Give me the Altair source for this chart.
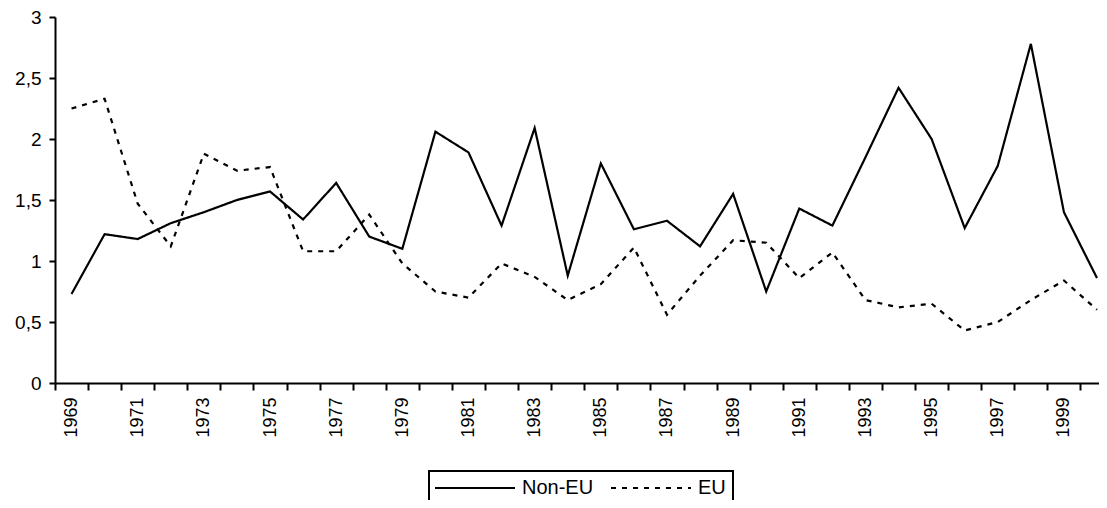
import altair as alt
import pandas as pd

years = list(range(1969, 2001))
non_eu = [0.73, 1.22, 1.18, 1.31, 1.40, 1.50, 1.57, 1.34, 1.64, 1.20, 1.10,
          2.06, 1.89, 1.29, 2.09, 0.88, 1.80, 1.26, 1.33, 1.12, 1.55,
          0.75, 1.43, 1.29, 1.85, 2.42, 2.00, 1.27, 1.78, 2.78, 1.40, 0.86]
eu = [2.25, 2.33, 1.47, 1.12, 1.88, 1.74, 1.77, 1.08, 1.08, 1.38, 0.98,
      0.75, 0.70, 0.98, 0.87, 0.68, 0.81, 1.11, 0.56, 0.88, 1.17,
      1.15, 0.86, 1.07, 0.68, 0.62, 0.65, 0.43, 0.50, 0.68, 0.84, 0.60]
series_names = ["Non-EU", "EU"]
y_ticks = [0, 0.5, 1, 1.5, 2, 2.5, 3]

rows = []
for name, vals in zip(series_names, [non_eu, eu]):
    for yr, v in zip(years, vals):
        rows.append({"year": yr, "value": v, "series": name})
df = pd.DataFrame(rows)

W = 1044
H = 366
x_lo, x_hi = 1968.5, 2000.06
half = W / (x_hi - x_lo) / 2

FONT = "Liberation Sans"

chart = alt.Chart(df).mark_line(strokeWidth=2.2, color="black").encode(
    x=alt.X(
        "year:Q",
        scale=alt.Scale(domain=[x_lo, x_hi], nice=False, zero=False),
        axis=alt.Axis(
            values=years,
            title=None,
            grid=False,
            tickOffset=-half,
            labelOffset=half,
            labelAngle=-90,
            labelExpr="datum.value % 2 == 1 ? datum.value : ''",
            labelFlush=False,
            labelOverlap=False,
            labelBound=False,
            labelFont=FONT,
            labelFontSize=18,
            labelColor="black",
            labelPadding=7,
            tickSize=7,
            tickWidth=2,
            tickColor="black",
            domainColor="black",
            domainWidth=2,
        ),
    ),
    y=alt.Y(
        "value:Q",
        scale=alt.Scale(domain=[0, 3], nice=False),
        axis=alt.Axis(
            values=y_ticks,
            title=None,
            grid=False,
            labelExpr="replace(format(datum.value, '~g'), '.', ',')",
            labelFont=FONT,
            labelFontSize=19,
            labelColor="black",
            labelPadding=8,
            tickSize=6,
            tickWidth=2,
            tickColor="black",
            domainColor="black",
            domainWidth=2,
        ),
    ),
    strokeDash=alt.StrokeDash(
        "series:N",
        scale=alt.Scale(domain=series_names, range=[[1, 0], [5, 6]]),
        legend=alt.Legend(
            title=None,
            orient="none",
            direction="horizontal",
            legendX=374,
            legendY=454,
            strokeColor="black",
            fillColor="white",
            padding=7,
            symbolType="M0,0L16,0",
            symbolSize=100,
            symbolOffset=-11,
            symbolStrokeWidth=2.2,
            symbolStrokeColor="black",
            symbolFillColor="transparent",
            labelFont=FONT,
            labelFontSize=20,
            labelColor="black",
            labelOffset=77,
            columnPadding=12,
        ),
    ),
).properties(
    width=W,
    height=H,
    padding={"left": 47, "top": 9, "right": 0, "bottom": 117},
    autosize=alt.AutoSizeParams(type="none"),
).configure_view(stroke="transparent").configure_legend(strokeWidth=2)

chart.save("out.html", embed_options={"renderer": "svg", "actions": False})
